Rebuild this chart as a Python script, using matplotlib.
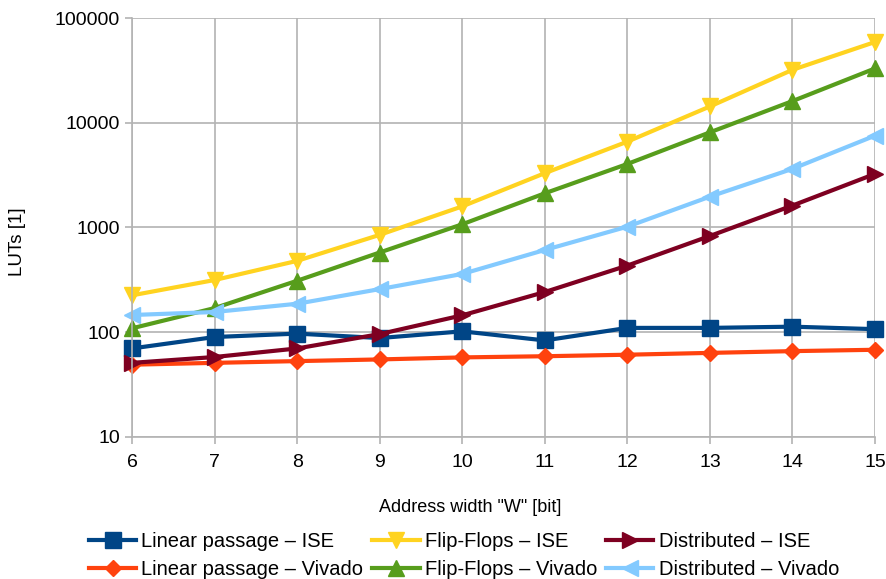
import matplotlib.pyplot as plt

plt.rcParams['font.family'] = ['Liberation Sans', 'DejaVu Sans']

# address width W in bits
widths = [6, 7, 8, 9, 10, 11, 12, 13, 14, 15]

# LUT counts (log scale)
linear_ise = [70, 90, 97, 88, 102, 83.5, 110, 110, 113, 107]
linear_vivado = [49, 51, 53, 55, 57.5, 59, 61, 63.5, 66, 68]
ff_ise = [225, 315, 480, 850, 1590, 3300, 6600, 14300, 32000, 59000]
ff_vivado = [109, 170, 310, 577, 1073, 2120, 4040, 8100, 16100, 33000]
dist_ise = [51, 58, 70, 96, 145, 242, 433, 830, 1620, 3250]
dist_vivado = [146, 156, 187, 258, 360, 610, 1018, 1970, 3630, 7530]

series = [
    ("Linear passage – ISE", linear_ise, "#004586", "s"),
    ("Linear passage – Vivado", linear_vivado, "#ff420e", "D"),
    ("Flip-Flops – ISE", ff_ise, "#ffd320", "v"),
    ("Flip-Flops – Vivado", ff_vivado, "#579d1c", "^"),
    ("Distributed – ISE", dist_ise, "#7e0021", ">"),
    ("Distributed – Vivado", dist_vivado, "#83caff", "<"),
]

fig = plt.figure(figsize=(8.87, 5.79), dpi=100)
ax = fig.add_axes([0.1488, 0.2453, 0.8377, 0.7236])

for name, vals, col, mk in series:
    ms = 8 if mk == "D" else 11
    ax.plot(widths, vals, color=col, lw=3, marker=mk, ms=ms,
            mec=col, label=name, clip_on=False)

ax.set_yscale('log')
ax.set_ylim(10, 100000)
ax.set_xlim(6, 15)
ax.set_xticks(widths)
ax.set_yticks([10, 100, 1000, 10000, 100000])
ax.set_yticklabels(["10", "100", "1000", "10000", "100000"])
ax.minorticks_off()

ax.grid(True, color="#b3b3b3", lw=1.2)
ax.set_axisbelow(True)
for s in ["top", "right"]:
    ax.spines[s].set_visible(False)
for s in ["left", "bottom"]:
    ax.spines[s].set_color("#b3b3b3")
    ax.spines[s].set_linewidth(1.2)
ax.tick_params(axis='both', colors="#b3b3b3", labelcolor="black",
               labelsize=14, length=5, width=1.2)
ax.tick_params(axis='x', pad=7)

ax.set_ylabel("LUTs [1]", fontsize=13.5)
ax.set_xlabel('Address width "W" [bit]', fontsize=13)
ax.yaxis.set_label_coords(-0.143, 0.465)
ax.xaxis.set_label_coords(0.455, -0.148)

fig.legend(loc='upper center', bbox_to_anchor=(0.523, 0.099), ncol=3,
           frameon=False, fontsize=14.5, handlelength=2.35, columnspacing=0.45,
           handletextpad=0.25, labelspacing=0.45, borderpad=0)

fig.savefig("out.png", dpi=100)
